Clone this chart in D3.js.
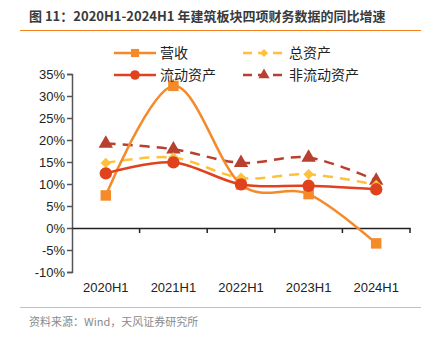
<!DOCTYPE html>
<meta charset="utf-8">
<title>建筑板块四项财务数据同比增速</title>
<style>
  body { margin: 0; background: #fff; }
  text { font-family: "Liberation Sans", Arial, "Noto Sans CJK SC", sans-serif; }
  .cjk { font-family: "Noto Sans CJK SC", sans-serif; }
</style>
<body>
<script src="https://d3js.org/d3.v7.min.js"></script>
<script>
    // data (%)
    var periods = ["2020H1", "2021H1", "2022H1", "2023H1", "2024H1"];
    var revenue = [7.4, 32.3, 9.9, 7.7, -3.5];          // 营收
    var totalAssets = [14.8, 16.0, 11.4, 12.2, 9.8];    // 总资产
    var currentAssets = [12.4, 14.9, 9.9, 9.6, 8.8];    // 流动资产
    var nonCurrentAssets = [19.2, 17.9, 14.8, 16.0, 10.8]; // 非流动资产
    var yTicks = [35, 30, 25, 20, 15, 10, 5, 0, -5, -10];

    var width = 430, height = 340;

    var svg = d3.select("body").append("svg")
        .attr("width", width)
        .attr("height", height);

    // title + rules
    svg.append("text")
        .attr("class", "cjk")
        .attr("x", 29).attr("y", 21)
        .attr("font-size", 13).attr("font-weight", "bold")
        .attr("fill", "#3a3a3a")
        .text("图 11：2020H1-2024H1 年建筑板块四项财务数据的同比增速");
    svg.append("line").attr("x1", 20).attr("x2", 421).attr("y1", 30.5).attr("y2", 30.5)
        .attr("stroke", "#F58220").attr("stroke-width", 1.2);
    svg.append("line").attr("x1", 20).attr("x2", 421).attr("y1", 307.5).attr("y2", 307.5)
        .attr("stroke", "#F8B27A").attr("stroke-width", 1.2);
    svg.append("text")
        .attr("class", "cjk")
        .attr("x", 29).attr("y", 326)
        .attr("font-size", 11).attr("fill", "#8a8a8a")
        .text("资料来源：Wind，天风证券研究所");

    var x = d3.scaleBand().domain(periods).range([72, 410]);
    var y = d3.scaleLinear().domain([-10, 35]).range([272, 74]);

    // y axis
    var yAxis = svg.append("g")
        .attr("transform", "translate(72,0)")
        .call(d3.axisLeft(y).tickValues(yTicks).tickSize(5).tickFormat(d => d + "%"));
    yAxis.select(".domain").attr("stroke", "#555").attr("stroke-width", 1.5);
    yAxis.selectAll(".tick line").attr("stroke", "#555").attr("stroke-width", 1.5);
    yAxis.selectAll(".tick text").attr("font-size", 13).attr("fill", "#222")
        .attr("font-family", "'Liberation Sans', Arial, sans-serif").attr("x", -7);

    // x axis at 0%
    var xAxis = svg.append("g")
        .attr("transform", "translate(0," + y(0) + ")")
        .call(d3.axisBottom(x).tickSize(0).tickSizeOuter(0));
    xAxis.select(".domain").attr("stroke", "#222").attr("stroke-width", 1.5);
    xAxis.selectAll(".tick text")
        .attr("font-size", 13).attr("fill", "#222")
        .attr("font-family", "'Liberation Sans', Arial, sans-serif")
        .attr("y", y(-10) - y(0) + 11).attr("dy", "0.71em");
    var edges = periods.map(p => x(p)).concat([x.range()[1]]).slice(1);
    xAxis.selectAll(".sep").data(edges).join("line")
        .attr("x1", d => d).attr("x2", d => d)
        .attr("y1", 0).attr("y2", 5)
        .attr("stroke", "#222").attr("stroke-width", 1.5);

    var cx = p => x(p) + x.bandwidth() / 2;
    var line = d3.line()
        .x((d, i) => cx(periods[i]))
        .y(d => y(d))
        .curve(d3.curveCardinal.tension(0));

    var series = [
        {name: "非流动资产", values: nonCurrentAssets, color: "#B7402F", dash: "10,7", marker: "triangle", size: 90},
        {name: "总资产", values: totalAssets, color: "#FFC13A", dash: "10,7", marker: "diamond", size: 70},
        {name: "营收", values: revenue, color: "#F58A2A", dash: null, marker: "square", size: 110},
        {name: "流动资产", values: currentAssets, color: "#E0421E", dash: null, marker: "circle", size: 120}
    ];

    var symbols = {
        triangle: d3.symbolTriangle,
        diamond: d3.symbolDiamond2,
        square: d3.symbolSquare,
        circle: d3.symbolCircle
    };

    series.forEach(function (s) {
        svg.append("path")
            .datum(s.values)
            .attr("d", line)
            .attr("fill", "none")
            .attr("stroke", s.color)
            .attr("stroke-width", 2.5)
            .attr("stroke-dasharray", s.dash);
        svg.selectAll(null)
            .data(s.values)
            .join("path")
            .attr("transform", (d, i) => "translate(" + cx(periods[i]) + "," + y(d) + ")")
            .attr("d", d3.symbol(symbols[s.marker], s.size))
            .attr("fill", s.color);
    });

    // legend
    var legend = [
        {s: series[2], lx: 114, ly: 53},
        {s: series[3], lx: 114, ly: 75},
        {s: series[1], lx: 243, ly: 53},
        {s: series[0], lx: 243, ly: 75}
    ];
    legend.forEach(function (l) {
        var g = svg.append("g");
        g.append("line")
            .attr("x1", l.lx).attr("x2", l.lx + 42)
            .attr("y1", l.ly).attr("y2", l.ly)
            .attr("stroke", l.s.color).attr("stroke-width", 2.5)
            .attr("stroke-dasharray", l.s.dash ? "9,6" : null);
        g.append("path")
            .attr("transform", "translate(" + (l.lx + 21) + "," + l.ly + ")")
            .attr("d", d3.symbol(symbols[l.s.marker], l.s.size * 0.6))
            .attr("fill", l.s.color);
        g.append("text")
            .attr("class", "cjk")
            .attr("x", l.lx + 46).attr("y", l.ly)
            .attr("dy", "0.35em")
            .attr("font-size", 14).attr("fill", "#222")
            .text(l.s.name);
    });
</script>
</body>
